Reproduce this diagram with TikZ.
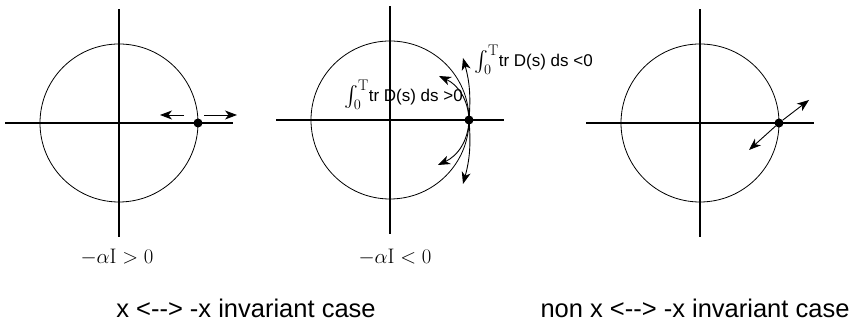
\documentclass[tikz,border=0pt]{standalone}
\usepackage{amsmath}
\usepackage{fontspec}
\setsansfont{Liberation Sans}[Ligatures=TeXOff]
\usepackage{tikz}
\usetikzlibrary{arrows.meta,positioning,calc}
\newcommand{\trint}{{\fontsize{22}{22}\selectfont$\int_0^{\mathrm{T}}$}}
\tikzset{
  axis/.style     = {line width=1.1pt},
  ring/.style     = {line width=0.8pt},
  fixdot/.style   = {circle,fill=black,inner sep=0pt,minimum size=9pt},
  arr/.style      = {-{Stealth[length=12pt,width=9pt,inset=3.5pt]},line width=0.9pt},
  alphalbl/.style = {font=\fontsize{21}{25}\selectfont,anchor=base},
  intlbl/.style   = {font=\sffamily\fontsize{17}{20}\selectfont,
                     anchor=base west,inner sep=0pt},
  caselbl/.style  = {font=\sffamily\fontsize{25.5}{30}\selectfont,anchor=base},
}

\begin{document}
\begin{tikzpicture}[x=1pt,y=1pt]
  \useasboundingbox (0,0) rectangle (856,328);
  % three circles with their axes
  \foreach \n/\cx/\cy in {a/119/205,b/390/208,c/700/205}{
    \coordinate (o\n) at (\cx,\cy);
    \draw[axis] ($(o\n)+(-114,0)$) -- ($(o\n)+(114,0)$);
    \draw[axis] ($(o\n)+(0,-114)$) -- ($(o\n)+(0,114)$);
    \draw[ring] (o\n) circle[radius=79pt];
    \node[fixdot] (p\n) at ($(o\n)+(79,0)$) {};
  }
  % invariant case, alpha I > 0
  \draw[arr] ([shift={(-14,8)}]pa.center) -- ++(-24,0);
  \draw[arr] ([shift={(6,8)}]pa.center) -- ++(33,0);
  % invariant case, alpha I < 0
  \draw[arr] (pb.center) to[bend right=10] ++(-6,62);
  \draw[arr] (pb.center) to[out=92,in=-25] ++(-30,44);
  \draw[arr] (pb.center) to[out=-92,in=25] ++(-31,-45);
  \draw[arr] (pb.center) to[bend left=10] ++(-6,-64);
  \node[intlbl] (ipos) at (344,226) {\trint tr D(s) ds >0};
  \node[intlbl] (ineg) at (474,261) {\trint tr D(s) ds <0};
  % non invariant case
  \draw[arr] (pc) -- ++(30,23);
  \draw[arr] (pc) -- ++(-30,-27);
  % labels
  \node[alphalbl] (la) at (117,64) {$-\alpha\mathrm{I}>0$};
  \node[alphalbl] (lb) at (395,64) {$-\alpha\mathrm{I}<0$};
  \node[caselbl] (inv) at (246,10) {x <--> -x invariant case};
  \node[caselbl] (noninv) at (695,10) {non x <--> -x invariant case};
\end{tikzpicture}
\end{document}
